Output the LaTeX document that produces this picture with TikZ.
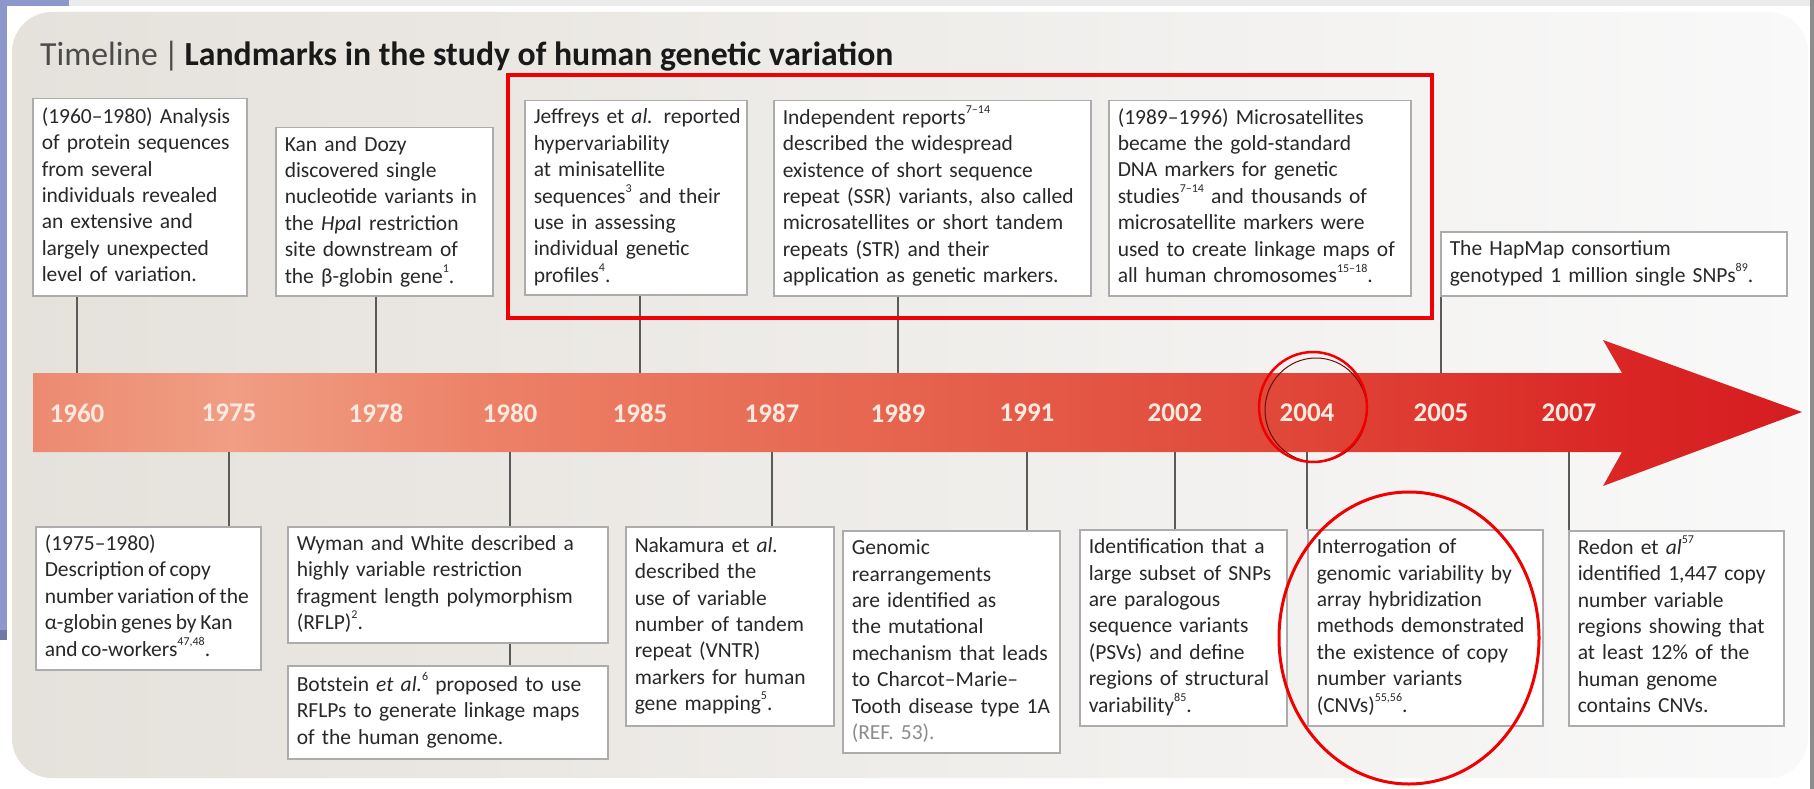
\documentclass[tikz,border=0pt]{standalone}
\usepackage{fontspec}
\setmainfont{Carlito}
\setlength{\parindent}{0pt}
\definecolor{panelL}{RGB}{229,225,219}
\definecolor{panelM}{RGB}{238,236,232}
\definecolor{panelR}{RGB}{249,249,249}
\definecolor{txt}{RGB}{40,40,40}
\definecolor{titlegrey}{RGB}{75,75,75}
\definecolor{refgrey}{RGB}{140,140,140}
\definecolor{boxline}{RGB}{172,172,172}
\definecolor{connline}{RGB}{90,90,90}
\definecolor{slide}{RGB}{140,152,204}
\definecolor{hlred}{RGB}{240,0,0}
\definecolor{hldark}{RGB}{110,10,10}
\definecolor{yeartxt}{RGB}{252,234,224}
\definecolor{arA}{RGB}{236,138,112}
\definecolor{arB}{RGB}{240,158,132}
\definecolor{arC}{RGB}{236,128,102}
\definecolor{arD}{RGB}{230,100,78}
\definecolor{arE}{RGB}{224,70,55}
\definecolor{arF}{RGB}{218,40,38}
\definecolor{arG}{RGB}{214,28,32}
\pgfdeclarehorizontalshading{arrowshade}{100bp}{color(0bp)=(arA); color(25bp)=(arA); color(30.6bp)=(arB); color(38.2bp)=(arC); color(49.5bp)=(arD); color(60.8bp)=(arE); color(69.3bp)=(arF); color(75bp)=(arG); color(100bp)=(arG)}
\newcommand{\mybody}{\fontsize{21.5}{26.4}\selectfont}
\newcommand{\tl}[1]{\begin{tabular}{@{}l@{}}#1\end{tabular}}
\newcommand{\sref}[1]{\raisebox{0.5em}{\fontsize{12}{12}\selectfont #1}}
\tikzset{
  tbox/.style={draw=boxline, line width=1.5pt, fill=white, anchor=north west,
    align=left, inner xsep=9pt, inner ysep=4pt, font=\mybody, text=txt},
  year/.style={font=\fontsize{27}{30}\selectfont\bfseries, text=yeartxt, inner sep=0pt},
  connector/.style={draw=connline, line width=1.8pt},
}
\begin{document}
\begin{tikzpicture}[x=1pt, y=-1pt]
\useasboundingbox (0,0) rectangle (1814,789);
% background
\fill[white] (0,0) rectangle (1814,789);
\fill[black!8] (60,0) rectangle (1814,6);
\shade[left color=panelL, middle color=panelM, right color=panelR, rounded corners=40pt] (12,12) rectangle (1808,778);
\fill[slide] (0,0) rectangle (7,640);
\fill[slide] (0,0) rectangle (69,6);
\fill[slide!80!black] (0,630) rectangle (7,640);
\fill[black!45] (1810,0) rectangle (1814,789);

% title
\node[anchor=base west, inner sep=0pt, font=\fontsize{33.7}{38}\selectfont] (title) at (40,66)
  {{\color{titlegrey}Timeline\,|\,}{\bfseries\color{black!90}Landmarks in the study of human genetic variation}};

% arrow
\shade[shading=arrowshade] (33,373) -- (1622,373) -- (1603,340) -- (1802,412) -- (1603,486) -- (1622,452) -- (33,452) -- cycle;
\coordinate (atop) at (0,373);
\coordinate (abot) at (0,452);

% years
\node[year] (y1960) at (77,413) {1960};
\node[year] (y1975) at (229,413) {1975};
\node[year] (y1978) at (376,413) {1978};
\node[year] (y1980) at (510,413) {1980};
\node[year] (y1985) at (640,413) {1985};
\node[year] (y1987) at (772,413) {1987};
\node[year] (y1989) at (898,413) {1989};
\node[year] (y1991) at (1027,413) {1991};
\node[year] (y2002) at (1175,413) {2002};
\node[year] (y2004) at (1307,413) {2004};
\node[year] (y2005) at (1441,413) {2005};
\node[year] (y2007) at (1569,413) {2007};

% top boxes
\node[tbox, text width=196pt, minimum height=197pt] (A) at (32,98) {\tl{%
(1960--1980) Analysis\\ of protein sequences\\ from several\\ individuals revealed\\ an extensive and\\ largely unexpected\\ level of variation.}};
\node[tbox, text width=199pt, minimum height=168pt] (B) at (275,127) {\tl{%
Kan and Dozy\\ discovered single\\ nucleotide variants in\\ the \textit{Hpa}I restriction\\ site downstream of\\ the β-globin gene\sref{1}.}};
\node[tbox, text width=204pt, minimum height=194pt] (C) at (524,100) {\tl{%
Jeffreys et \textit{al.} reported\\ hypervariability\\ at minisatellite\\ sequences\sref{3} and their\\ use in assessing\\ individual genetic\\ profiles\sref{4}.}};
\node[tbox, text width=299pt, minimum height=195pt] (D) at (773,100) {\tl{%
Independent reports\sref{7--14}\\ described the widespread\\ existence of short sequence\\ repeat (SSR) variants, also called\\ microsatellites or short tandem\\ repeats (STR) and their\\ application as genetic markers.}};
\node[tbox, text width=284pt, minimum height=195pt] (E) at (1108,100) {\tl{%
(1989--1996) Microsatellites\\ became the gold-standard\\ DNA markers for genetic\\ studies\sref{7--14} and thousands of\\ microsatellite markers were\\ used to create linkage maps of\\ all human chromosomes\sref{15--18}.}};
\node[tbox, text width=328pt, minimum height=64pt] (F) at (1440,231) {\tl{%
The HapMap consortium\\ genotyped 1 million single SNPs\sref{89}.}};

% bottom boxes
\node[tbox, text width=207pt, minimum height=143pt] (G) at (35,526) {\spaceskip=0.17em\relax\tl{%
(1975--1980)\\ Description of copy\\ number variation of the\\ α-globin genes by Kan\\ and co-workers\sref{47,48}.}};
\node[tbox, text width=302pt, minimum height=116pt] (H) at (287,526) {\tl{%
Wyman and White described a\\ highly variable restriction\\ fragment length polymorphism\\ (RFLP)\sref{2}.}};
\node[tbox, text width=302pt, minimum height=93pt] (I) at (287,665) {\tl{%
Botstein \textit{et al.}\sref{6} proposed to use\\ RFLPs to generate linkage maps\\ of the human genome.}};
\node[tbox, text width=190pt, minimum height=199pt] (J) at (625,526) {\tl{%
Nakamura et \textit{al.}\\ described the\\ use of variable\\ number of tandem\\ repeat (VNTR)\\ markers for human\\ gene mapping\sref{5}.}};
\node[tbox, text width=199pt, minimum height=222pt] (K) at (842,530) {\tl{%
Genomic\\ rearrangements\\ are identified as\\ the mutational\\ mechanism that leads\\ to Charcot--Marie--\\ Tooth disease type 1A\\ {\color{refgrey}(REF. 53).}}};
\node[tbox, text width=189pt, minimum height=196pt] (L) at (1079,529) {\tl{%
Identification that a\\ large subset of SNPs\\ are paralogous\\ sequence variants\\ (PSVs) and define\\ regions of structural\\ variability\sref{85}.}};
\node[tbox, text width=217pt, minimum height=196pt] (M) at (1307,529) {\tl{%
Interrogation of\\ genomic variability by\\ array hybridization\\ methods demonstrated\\ the existence of copy\\ number variants\\ (CNVs)\sref{55,56}.}};
\node[tbox, text width=197pt, minimum height=195pt] (N) at (1568,530) {\tl{%
Redon et \textit{al}\sref{57}\\ identified 1,447 copy\\ number variable\\ regions showing that\\ at least 12\% of the\\ human genome\\ contains CNVs.}};

% connectors (top)
\draw[connector] (A.south -| y1960) -- (y1960 |- atop);
\draw[connector] (B.south -| y1978) -- (y1978 |- atop);
\draw[connector] (C.south -| y1985) -- (y1985 |- atop);
\draw[connector] (D.south -| y1989) -- (y1989 |- atop);
\draw[connector] (F.south -| y2005) -- (y2005 |- atop);
% connectors (bottom)
\draw[connector] (y1975 |- abot) -- (G.north -| y1975);
\draw[connector] (y1980 |- abot) -- (H.north -| y1980);
\draw[connector] (H.south -| y1980) -- (I.north -| y1980);
\draw[connector] (y1987 |- abot) -- (J.north -| y1987);
\draw[connector] (y1991 |- abot) -- (K.north -| y1991);
\draw[connector] (y2002 |- abot) -- (L.north -| y2002);
\draw[connector] (y2004 |- abot) -- (M.north -| y2004);
\draw[connector] (y2007 |- abot) -- (N.north -| y2007);

% red highlights
\draw[hlred, line width=4pt] (508,75) rectangle (1432,318);
\draw[hldark, line width=1pt] (1316,410) ellipse [x radius=51pt, y radius=52pt];
\draw[hlred, line width=2.5pt] (1313,407) ellipse [x radius=54pt, y radius=55pt];
\draw[hlred, line width=3pt] (1409,638) ellipse [x radius=130pt, y radius=146pt];
\end{tikzpicture}
\end{document}
